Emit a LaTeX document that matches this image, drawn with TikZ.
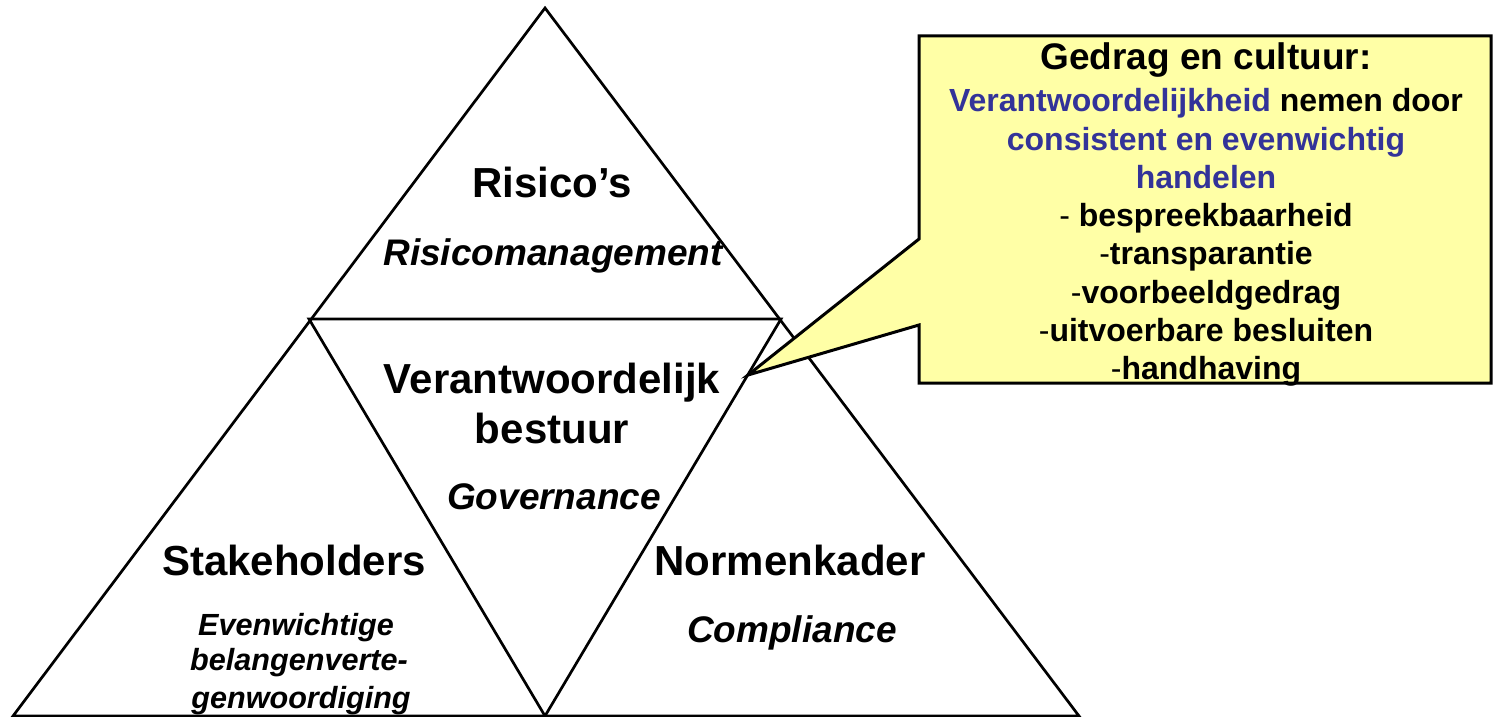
\documentclass[tikz,border=0pt]{standalone}
\usepackage{fontspec}
\setmainfont{Liberation Sans}
\definecolor{calloutfill}{RGB}{255,255,166}
\definecolor{textblue}{RGB}{51,51,153}
\tikzset{
  tri/.style={draw=black,line width=1.35pt,line join=miter},
  head/.style={anchor=base,inner sep=0pt,font=\fontsize{21}{25}\selectfont\bfseries},
  sub/.style={anchor=base,inner sep=0pt,font=\fontsize{18.5}{22}\selectfont\bfseries\itshape},
  small/.style={anchor=base,inner sep=0pt,font=\fontsize{15.3}{18}\selectfont\bfseries\itshape},
  call/.style={anchor=base,inner sep=0pt,font=\fontsize{16}{19}\selectfont\bfseries},
  callhead/.style={anchor=base,inner sep=0pt,font=\fontsize{18.5}{22}\selectfont\bfseries},
  callout/.style={fill=calloutfill,draw=black,line width=1.5pt,line join=miter}
}
\begin{document}
\begin{tikzpicture}[x=0.5pt,y=-0.5pt]
\useasboundingbox (0,0) rectangle (1494,717);
% triangles
\coordinate (apex) at (545,8);
\coordinate (bl) at (13,716);
\coordinate (br) at (1079,716);
\coordinate (ml) at (309,319);
\coordinate (mr) at (781,319);
\coordinate (mb) at (545,716);
\draw[tri] (apex) -- (br) -- (bl) -- cycle;
\draw[tri] (ml) -- (mr) -- (mb) -- cycle;
% callout
\coordinate (tip) at (748,375);
\draw[callout] (919,36) -- (1491,36) -- (1491,383) -- (919,383) -- (919,325) -- (tip) -- (919,239) -- cycle;
% triangle texts
\node[head] (risico) at (552,198) {Risico’s};
\node[sub] (risman) at (553,265) {Risicomanagement};
\node[head] (verant) at (552,393) {Verantwoordelijk};
\node[head] (bestuur) at (552,443) {bestuur};
\node[sub] (gov) at (554,509) {Governance};
\node[head] (stake) at (294,575) {Stakeholders};
\node[small] (even) at (296,635) {Evenwichtige};
\node[small] (belang) at (299,670) {belangenverte-};
\node[small] (genw) at (301,708) {genwoordiging};
\node[head] (norm) at (790,575) {Normenkader};
\node[sub] (compl) at (792,642) {Compliance};
% callout texts
\node[callhead] (c1) at (1206,70) {Gedrag en cultuur:};
\node[call] (c2) at (1206,112) {\textcolor{textblue}{Verantwoordelijkheid} nemen door};
\node[call,text=textblue] (c3) at (1206,150) {consistent en evenwichtig};
\node[call,text=textblue] (c4) at (1206,188) {handelen};
\node[call] (c5) at (1206,226) {\mdseries-\bfseries\ bespreekbaarheid};
\node[call] (c6) at (1206,264) {\mdseries-\bfseries transparantie};
\node[call] (c7) at (1206,303) {\mdseries-\bfseries voorbeeldgedrag};
\node[call] (c8) at (1206,341) {\mdseries-\bfseries uitvoerbare besluiten};
\node[call] (c9) at (1206,379) {\mdseries-\bfseries handhaving};
\end{tikzpicture}
\end{document}
